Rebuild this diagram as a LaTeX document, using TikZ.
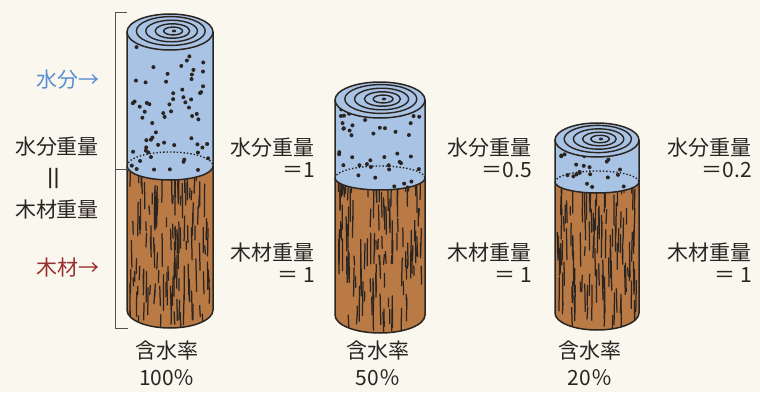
\documentclass[tikz,border=0pt]{standalone}
\usepackage{fontspec}
\setmainfont{Noto Sans CJK JP}
\definecolor{paper}{HTML}{F9F7EE}
\definecolor{water}{HTML}{A9C3E5}
\definecolor{wood}{HTML}{B97A45}
\definecolor{ink}{HTML}{2B2522}
\definecolor{bluelabel}{HTML}{5A8ED2}
\definecolor{redlabel}{HTML}{9A2F2F}

% #1 centre x, #2 half width, #3 end ellipse y radius, #4 top level,
% #5 water/wood level, #6 bottom level, #7 random seed, #8 y radius of the water/wood edge
\newcommand\woodlog[8]{%
  \begin{scope}
    \pgfmathsetseed{#7}
    % wood body
    \path[fill=wood] (#1-#2,#5) -- (#1-#2,#6)
      arc[start angle=180,end angle=360,x radius=#2,y radius=#3]
      -- (#1+#2,#5)
      arc[start angle=0,end angle=-180,x radius=#2,y radius=#8] -- cycle;
    % grain streaks
    \begin{scope}
      \clip (#1-#2,#5) -- (#1-#2,#6)
        arc[start angle=180,end angle=360,x radius=#2,y radius=#3]
        -- (#1+#2,#5)
        arc[start angle=0,end angle=-180,x radius=#2,y radius=#8] -- cycle;
      \pgfmathtruncatemacro\ngrain{(#5-#6)*0.95}
      \foreach \k in {1,...,\ngrain}{%
        \pgfmathsetmacro\gx{#1-#2+3+(2*#2-6)*rnd}
        \pgfmathsetmacro\gy{#6-#3+(#5-#6+#3)*rnd}
        \pgfmathsetmacro\gl{8+28*rnd}
        \pgfmathsetmacro\gd{0.8*rand}
        \draw[grain] (\gx,\gy) -- ++(\gd,\gl);
      }
    \end{scope}
    % water body
    \path[fill=water] (#1-#2,#4) -- (#1-#2,#5)
      arc[start angle=180,end angle=360,x radius=#2,y radius=#8]
      -- (#1+#2,#4) -- cycle;
    \begin{scope}
      \clip (#1-#2,#4) -- (#1-#2,#5)
        arc[start angle=180,end angle=360,x radius=#2,y radius=#8]
        -- (#1+#2,#4) -- cycle;
      \pgfmathtruncatemacro\ndots{(#4-#5)*0.5+8}
      \foreach \k in {1,...,\ndots}{%
        \pgfmathsetmacro\px{#1-#2+4+(2*#2-8)*rnd}
        \pgfmathsetmacro\py{#5-#8+(#4-#5+#8)*rnd}
        \fill[ink] (\px,\py) circle[radius=2];
      }
      % hidden back edge of the water/wood boundary
      \draw[ink,line width=1.4pt,dotted] (#1-#2,#5)
        arc[start angle=180,end angle=0,x radius=#2,y radius=#8];
    \end{scope}
    % outline of the log
    \draw[logline] (#1-#2,#4) -- (#1-#2,#6)
      arc[start angle=180,end angle=360,x radius=#2,y radius=#3]
      -- (#1+#2,#4);
    \draw[logline] (#1+#2,#5)
      arc[start angle=0,end angle=-180,x radius=#2,y radius=#8];
    % cut end with growth rings
    \draw[logline,fill=water] (#1,#4) ellipse[x radius=#2,y radius=#3];
    \foreach \f in {0.8,0.6,0.4,0.22}{%
      \pgfmathsetmacro\rx{\f*#2}
      \pgfmathsetmacro\ry{\f*#3}
      \pgfmathsetmacro\ox{#1+4*(1-\f)}
      \draw[ink,line width=1.4pt] (\ox,#4+1) ellipse[x radius=\rx,y radius=\ry];
    }
    \fill[ink] (#1+4,#4+1) ellipse[x radius=2.2,y radius=1.4];
  \end{scope}
}

\tikzset{
  grain/.style={ink,line width=1.25pt,line cap=round},
  logline/.style={ink,line width=1.5pt},
  bracket/.style={ink!80,line width=1pt},
  lbl/.style={inner sep=0pt,text=ink,font=\fontsize{21}{23}\selectfont},
  rlbl/.style={lbl,anchor=east},
}

\begin{document}
\begin{tikzpicture}[x=1pt,y=1pt]
  \fill[paper] (0,0) rectangle (760,392);
  \useasboundingbox (0,0) rectangle (760,392);

  % three logs, drying from left to right
  \woodlog{170}{43}{18}{360}{226}{82}{11}{14}
  \woodlog{380}{45}{18}{292}{214}{77}{23}{12}
  \woodlog{597}{42}{17}{252}{210}{79}{37}{11}

  % bracket beside the first log
  \coordinate (bt) at (127,379);
  \coordinate (bm) at (128,223);
  \coordinate (bb) at (128,64);
  \draw[bracket] (bt) -- (115,379) -- (115,64) -- (bb);
  \draw[bracket] (115,223) -- (bm);

  % left-hand labels
  \node[rlbl,text=bluelabel] (water) at (100,312) {水分→};
  \node[lbl] (ww) at (57,245) {水分重量};
  \node[lbl,rotate=90,font=\fontsize{28}{30}\selectfont] (eq) at (57,214) {＝};
  \node[lbl] (woodw) at (57,182) {木材重量};
  \node[rlbl,text=redlabel] (wood) at (100,124) {木材→};

  % weights beside each log
  \node[rlbl] (w1) at (315,244) {水分重量};
  \node[rlbl] (w1v) at (315,222) {＝1};
  \node[rlbl] (m1) at (315,139) {木材重量};
  \node[rlbl] (m1v) at (315,117) {＝ 1};

  \node[rlbl] (w2) at (532,244) {水分重量};
  \node[rlbl] (w2v) at (532,222) {＝0.5};
  \node[rlbl] (m2) at (532,139) {木材重量};
  \node[rlbl] (m2v) at (532,117) {＝ 1};

  \node[rlbl] (w3) at (752,244) {水分重量};
  \node[rlbl] (w3v) at (752,222) {＝0.2};
  \node[rlbl] (m3) at (752,139) {木材重量};
  \node[rlbl] (m3v) at (752,117) {＝ 1};

  % moisture content
  \node[lbl] (r1) at (167,41) {含水率};
  \node[lbl] (p1) at (167,14) {100％};
  \node[lbl] (r2) at (378,41) {含水率};
  \node[lbl] (p2) at (378,14) {50％};
  \node[lbl] (r3) at (590,41) {含水率};
  \node[lbl] (p3) at (590,14) {20％};
\end{tikzpicture}
\end{document}
